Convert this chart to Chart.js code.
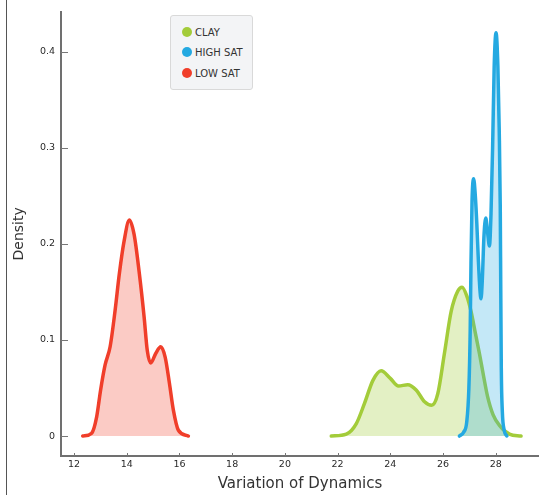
<!DOCTYPE html>
<html>
<head>
<meta charset="utf-8">
<script src="https://cdn.jsdelivr.net/npm/chart.js@4.4.1/dist/chart.umd.min.js"></script>
<style>
  html, body { margin: 0; padding: 0; background: #fff; }
  #wrap { position: relative; width: 539px; height: 495px; }
  #frame { position: absolute; left: 6px; top: 0; width: 1px; height: 495px; background: #555; }
  #legend {
    position: absolute; left: 170px; top: 15px; width: 81px; height: 73px;
    background: #f3f4f6; border: 1px solid #d9d9d9; border-radius: 3px;
    font: 10px 'DejaVu Sans', sans-serif; color: #333;
  }
  #legend .item { position: absolute; left: 11px; height: 12px; line-height: 12px; white-space: nowrap; }
  #legend .dot { display: inline-block; width: 10px; height: 10px; border-radius: 50%; vertical-align: -1px; margin-right: 3px; }
</style>
</head>
<body>
<div id="wrap">
  <canvas id="myChart" width="539" height="495"></canvas>
  <div id="frame"></div>
  <div id="legend"></div>
</div>
<script>
'use strict';

// density curves (x = variation of dynamics, y = density)
var clayX = [21.76, 22.33, 22.71, 23.02, 23.34, 23.65, 24.0, 24.31, 24.66, 24.98, 25.3, 25.57, 25.8, 26.05, 26.31, 26.56, 26.72, 26.9, 27.06, 27.22, 27.38, 27.54, 27.69, 27.9, 28.14, 28.52, 28.96];
var clayY = [0, 0.002, 0.013, 0.034, 0.058, 0.068, 0.06, 0.052, 0.0535, 0.048, 0.0356, 0.032, 0.044, 0.0857, 0.13, 0.151, 0.155, 0.146, 0.13, 0.108, 0.086, 0.062, 0.041, 0.022, 0.011, 0.002, 0];

var highX = [26.62, 26.78, 26.9, 26.98, 27.03, 27.06, 27.1, 27.16, 27.22, 27.28, 27.34, 27.4, 27.44, 27.49, 27.55, 27.62, 27.69, 27.76, 27.82, 27.88, 27.94, 28.01, 28.08, 28.13, 28.17, 28.19, 28.21, 28.25, 28.32, 28.42];
var highY = [0, 0.004, 0.015, 0.05, 0.11, 0.18, 0.245, 0.268, 0.252, 0.222, 0.183, 0.152, 0.143, 0.163, 0.207, 0.227, 0.212, 0.198, 0.232, 0.3, 0.385, 0.42, 0.385, 0.32, 0.24, 0.15, 0.07, 0.025, 0.006, 0];

var lowX = [12.33, 12.67, 12.86, 13.01, 13.18, 13.37, 13.56, 13.72, 13.9, 14.1, 14.28, 14.48, 14.66, 14.78, 14.91, 15.1, 15.29, 15.46, 15.62, 15.77, 15.96, 16.34];
var lowY = [0, 0.003, 0.02, 0.048, 0.074, 0.093, 0.131, 0.169, 0.203, 0.225, 0.21, 0.169, 0.124, 0.089, 0.076, 0.086, 0.093, 0.082, 0.055, 0.027, 0.006, 0];

var seriesNames = ['CLAY', 'HIGH SAT', 'LOW SAT'];
var lineColors = ['#a3cc3a', '#24a9e1', '#f03e2a'];
var fillColors = ['rgba(163,204,58,0.3)', 'rgba(36,169,225,0.27)', 'rgba(240,62,42,0.27)'];

var xTicks = [12, 14, 16, 18, 20, 22, 24, 26, 28];
var yTicks = [0, 0.1, 0.2, 0.3, 0.4];
var yTickLabels = ['0', '0.1', '0.2', '0.3', '0.4'];

function points(xs, ys) {
  return xs.map(function (x, i) { return { x: x, y: ys[i] }; });
}

var curves = [points(clayX, clayY), points(highX, highY), points(lowX, lowY)];

// small inward tick marks on both axes
var tickMarks = {
  id: 'tickMarks',
  afterDraw: function (chart) {
    var ctx = chart.ctx;
    var xs = chart.scales.x, ys = chart.scales.y;
    ctx.save();
    ctx.strokeStyle = '#777';
    ctx.lineWidth = 1;
    ys.ticks.forEach(function (t) {
      var py = Math.round(ys.getPixelForValue(t.value)) + 0.5;
      ctx.beginPath();
      ctx.moveTo(ys.right, py);
      ctx.lineTo(ys.right + 7, py);
      ctx.stroke();
    });
    xs.ticks.forEach(function (t) {
      var px = Math.round(xs.getPixelForValue(t.value)) + 0.5;
      ctx.beginPath();
      ctx.moveTo(px, xs.top);
      ctx.lineTo(px, xs.top - 3);
      ctx.stroke();
    });
    ctx.restore();
  }
};

Chart.defaults.font.family = "'DejaVu Sans', sans-serif";
Chart.defaults.color = '#2a2a2a';

var ctx = document.getElementById('myChart').getContext('2d');
var chart = new Chart(ctx, {
  type: 'line',
  data: {
    datasets: curves.map(function (pts, i) {
      return {
        label: seriesNames[i],
        data: pts,
        borderColor: lineColors[i],
        backgroundColor: fillColors[i],
        borderWidth: 3.5,
        borderCapStyle: 'round',
        borderJoinStyle: 'round',
        fill: 'origin',
        pointRadius: 0,
        cubicInterpolationMode: 'monotone',
        order: 3 - i
      };
    })
  },
  options: {
    responsive: false,
    animation: false,
    layout: { padding: { top: 10, right: 0, left: 0, bottom: 0 } },
    plugins: {
      legend: { display: false },
      tooltip: { enabled: false }
    },
    scales: {
      x: {
        type: 'linear',
        min: 11.507,
        max: 29.64,
        afterFit: function (s) { s.height = 39; },
        afterBuildTicks: function (s) { s.ticks = xTicks.map(function (v) { return { value: v }; }); },
        grid: { display: false, drawTicks: false },
        border: { display: true, color: '#707070', width: 2 },
        ticks: { padding: 3, font: { size: 9.5 }, maxRotation: 0 },
        title: {
          display: true,
          text: 'Variation of Dynamics',
          font: { size: 15 },
          color: '#333',
          padding: { top: 0, bottom: 1.5 }
        }
      },
      y: {
        min: -0.0208,
        max: 0.442,
        afterFit: function (s) { s.width = 61; },
        afterBuildTicks: function (s) { s.ticks = yTicks.map(function (v) { return { value: v }; }); },
        grid: { display: false, drawTicks: false },
        border: { display: true, color: '#707070', width: 2 },
        ticks: {
          padding: 6,
          font: { size: 9.5 },
          callback: function (v) { return yTickLabels[yTicks.indexOf(v)]; }
        },
        title: {
          display: true,
          text: 'Density',
          font: { size: 14 },
          color: '#333',
          padding: { top: 10.5, bottom: 0 }
        }
      }
    }
  },
  plugins: [tickMarks]
});

// legend box
var legend = document.getElementById('legend');
var rowTops = [11, 31, 52];
seriesNames.forEach(function (name, i) {
  var item = document.createElement('div');
  item.className = 'item';
  item.style.top = rowTops[i] + 'px';
  item.innerHTML = '<span class="dot" style="background:' + lineColors[i] + '"></span>' + name;
  legend.appendChild(item);
});
</script>
</body>
</html>
